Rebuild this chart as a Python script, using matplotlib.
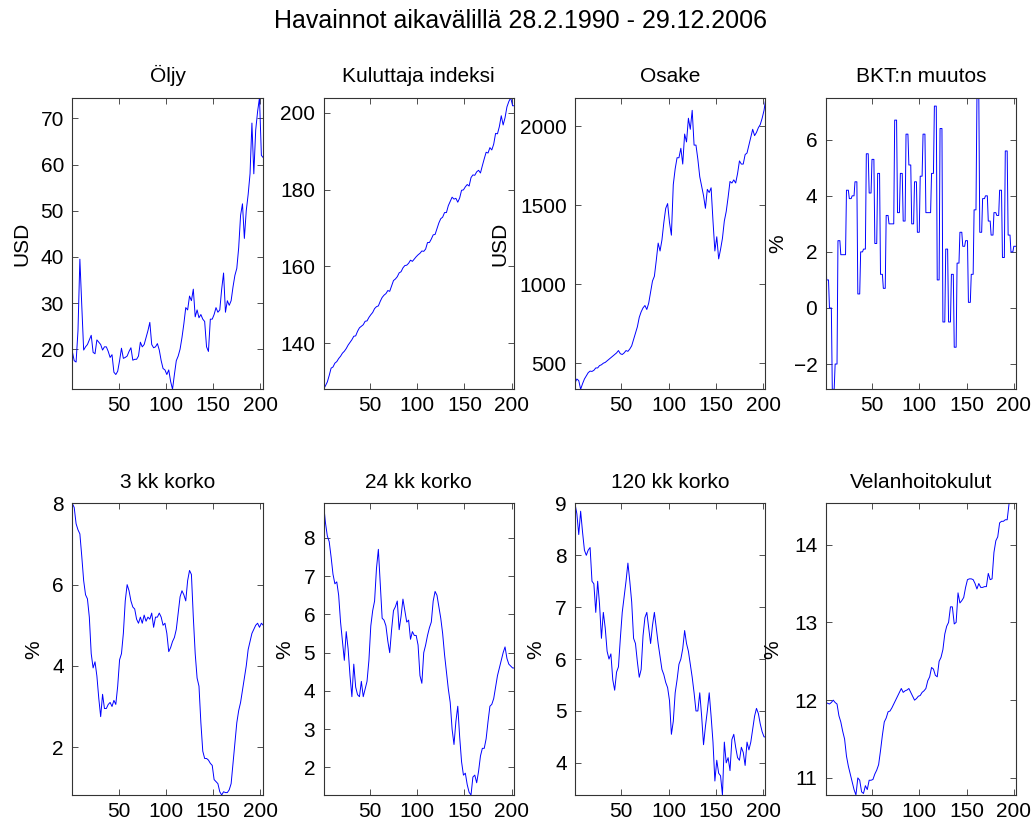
import numpy as np
import matplotlib
matplotlib.use('Agg')
import matplotlib.pyplot as plt

plt.rcParams['font.family'] = ['Liberation Sans', 'DejaVu Sans']

# joka toinen kuukausi, 1 = helmikuu 1990 ... 203 = joulukuu 2006
month = np.arange(1, 204, 2)
month_all = np.arange(1, 204)

# rivi = vuosi (helmi, huhti, kesä, elo, loka, joulu)
oil = [19.5, 17.5, 17.2, 24.0, 39.5, 29.5,
       19.8, 20.5, 21.0, 22.0, 23.0, 19.3,
       19.0, 22.0, 21.5, 21.0, 19.8, 20.5,
       20.5, 19.5, 18.2, 18.8, 15.0, 14.5,
       15.2, 17.5, 20.2, 18.0, 18.2, 18.5,
       19.5, 20.3, 17.6, 17.8, 17.8, 18.5,
       21.5, 20.5, 21.0, 22.5, 24.0, 25.8,
       21.0, 20.3, 20.5, 21.2, 19.8, 17.5,
       15.8, 15.5, 14.5, 15.5, 13.0, 11.3,
       14.5, 17.5, 18.5, 20.0, 22.5, 25.5,
       29.0, 28.5, 31.5, 30.5, 33.0, 27.0,
       28.5, 26.8, 27.5, 26.5, 26.0, 20.5,
       19.5, 26.5, 26.5, 27.5, 29.0, 28.0,
       28.5, 33.0, 36.5, 28.0, 30.5, 29.5,
       30.5, 33.5, 36.0, 37.5, 42.0, 49.0,
       51.5, 44.0, 50.0, 53.5, 58.0, 69.0,
       58.0, 67.5, 71.5, 74.5, 62.0, 61.5]

cpi = [128.0, 128.9, 129.9, 131.6, 133.5, 133.8,
       134.8, 135.2, 136.0, 136.6, 137.4, 137.9,
       138.6, 139.5, 140.2, 140.9, 141.8, 141.9,
       143.1, 144.0, 144.4, 144.8, 145.7, 145.8,
       146.7, 147.4, 148.0, 149.0, 149.5, 149.7,
       150.9, 151.9, 152.5, 152.9, 153.7, 153.5,
       154.9, 156.3, 156.7, 157.3, 158.3, 158.6,
       159.6, 160.2, 160.3, 160.8, 161.6, 161.3,
       161.9, 162.5, 163.0, 163.4, 164.0, 163.9,
       164.5, 166.2, 166.2, 167.1, 168.2, 168.3,
       169.8, 171.3, 172.4, 172.8, 174.0, 174.0,
       175.8, 176.9, 178.0, 177.5, 177.7, 176.7,
       177.8, 179.8, 179.9, 180.7, 181.3, 180.9,
       183.1, 183.8, 183.7, 184.6, 185.0, 184.3,
       186.2, 188.0, 189.7, 189.5, 190.9, 190.3,
       191.8, 194.6, 194.5, 196.4, 199.2, 196.8,
       198.7, 201.5, 202.9, 203.9, 201.8, 201.8]

stock = [375, 400, 390, 335, 370, 400,
         420, 440, 450, 448, 455, 470,
         470, 485, 490, 500, 505, 515,
         525, 535, 545, 555, 565, 580,
         560, 555, 565, 580, 575, 590,
         610, 650, 690, 730, 790, 825,
         850, 865, 840, 880, 950, 1020,
         1050, 1150, 1260, 1210, 1280, 1390,
         1480, 1510, 1390, 1310, 1630, 1730,
         1800, 1800, 1860, 1760, 1950, 1900,
         2050, 1980, 2100, 1880, 1880, 1790,
         1680, 1620, 1560, 1480, 1600, 1580,
         1610, 1400, 1210, 1300, 1160, 1220,
         1290, 1400, 1460, 1550, 1650, 1640,
         1660, 1640, 1700, 1780, 1760, 1760,
         1820, 1830, 1880, 1930, 1980, 1940,
         1960, 1990, 2010, 2050, 2100, 2180]

# BKT:n muutos neljännesvuosittain (toistuu kuukausille)
bkt_q = [2.3, 1.0, 0.0, -2.9, -2.0, 2.4, 1.9, 1.9, 4.2, 3.9,
         4.0, 4.5, 0.5, 2.0, 2.1, 5.5, 4.1, 5.3, 2.3, 4.8,
         1.2, 0.7, 3.3, 3.0, 3.0, 6.7, 3.4, 4.8, 3.1, 6.2,
         5.1, 3.0, 4.5, 2.7, 4.7, 6.2, 3.4, 3.4, 4.8, 7.2,
         1.0, 6.4, -0.5, 2.1, -0.5, 1.2, -1.4, 1.6, 2.7, 2.2,
         2.4, 0.2, 1.2, 3.5, 7.5, 2.7, 3.9, 4.0, 3.1, 2.6,
         3.4, 3.3, 4.2, 1.8, 5.6, 2.6, 2.0, 2.2, 2.2]
bkt = np.repeat(bkt_q, 3)[2:205]

rate3 = [8.0, 7.9, 7.5, 7.35, 7.25, 6.7,
         6.1, 5.75, 5.65, 5.2, 4.3, 3.95,
         4.1, 3.75, 3.2, 2.75, 3.3, 2.95,
         2.95, 3.05, 3.1, 3.0, 3.15, 3.05,
         3.5, 4.15, 4.3, 4.8, 5.6, 6.0,
         5.85, 5.6, 5.45, 5.4, 5.15, 5.05,
         5.2, 5.05, 5.25, 5.1, 5.2, 5.15,
         5.3, 4.95, 5.2, 5.2, 5.3, 5.2,
         5.0, 5.05, 4.8, 4.35, 4.45, 4.6,
         4.7, 4.9, 5.3, 5.7, 5.85, 5.75,
         5.6, 6.1, 6.35, 6.25, 5.2, 4.3,
         3.7, 3.5, 2.6, 1.9, 1.72, 1.72,
         1.68, 1.6, 1.55, 1.2, 1.15, 1.1,
         0.9, 0.82, 0.9, 0.88, 0.88, 0.95,
         1.1, 1.6, 2.1, 2.6, 2.9, 3.1,
         3.4, 3.7, 4.0, 4.4, 4.6, 4.8,
         4.9, 5.0, 5.05, 4.95, 5.05, 5.0]

rate24 = [8.9, 8.4, 8.05, 7.9, 7.5, 7.05,
          6.8, 6.85, 6.5, 5.8, 5.3, 4.8,
          5.55, 5.1, 4.4, 3.85, 4.7, 4.1,
          3.9, 3.85, 4.25, 3.85, 4.05, 4.25,
          4.8, 5.7, 6.1, 6.35, 7.2, 7.7,
          6.8, 5.9, 5.85, 5.7, 5.3, 5.0,
          5.6, 6.1, 6.2, 6.35, 5.6, 5.95,
          6.4, 6.1, 5.8, 5.85, 5.35, 5.55,
          5.45, 5.45, 5.2, 4.4, 4.2, 5.0,
          5.2, 5.45, 5.65, 5.8, 6.35, 6.6,
          6.5, 6.2, 5.9, 5.5, 4.95, 4.5,
          4.05, 3.7, 3.0, 2.6, 3.2, 3.6,
          2.8, 2.15, 1.8, 1.85, 1.55, 1.35,
          1.28, 1.75, 1.8, 1.6, 1.9, 2.3,
          2.5, 2.5, 2.75, 3.2, 3.6, 3.65,
          3.8, 4.1, 4.4, 4.6, 4.8, 5.0,
          5.15, 4.85, 4.7, 4.65, 4.6, 4.6]

rate120 = [9.0, 8.8, 8.4, 8.85, 8.45, 8.1,
           8.0, 8.1, 8.15, 7.5, 7.45, 6.9,
           7.5, 7.05, 6.4, 6.9, 6.6, 6.15,
           6.0, 6.1, 5.6, 5.4, 5.75, 5.85,
           6.4, 6.9, 7.2, 7.5, 7.85, 7.5,
           7.1, 6.4, 6.3, 5.95, 5.65, 5.8,
           6.45, 6.8, 6.9, 6.6, 6.3, 6.65,
           6.9, 6.6, 6.3, 6.05, 5.8, 5.7,
           5.55, 5.45, 5.2, 4.55, 4.8, 5.35,
           5.6, 5.9, 6.0, 6.2, 6.55, 6.3,
           6.15, 5.9, 5.65, 5.35, 5.0, 5.0,
           5.35, 4.9, 4.35, 4.7, 5.0, 5.35,
           4.9, 4.4, 3.65, 4.05, 3.8, 3.75,
           3.38, 4.4, 4.0, 4.1, 3.85, 4.45,
           4.55, 4.3, 4.1, 4.05, 4.3, 4.2,
           3.95, 4.4, 4.25, 4.4, 4.65, 4.9,
           5.05, 4.95, 4.75, 4.6, 4.5, 4.5]

debt = [11.97, 11.96, 11.95, 11.97, 12.0, 11.97,
        11.95, 11.8, 11.72, 11.6, 11.5, 11.28,
        11.15, 11.05, 10.95, 10.85, 10.78, 11.0,
        10.97, 10.82, 10.8, 10.9, 10.85, 10.97,
        10.97, 10.98, 11.05, 11.1, 11.17, 11.35,
        11.55, 11.72, 11.77, 11.85, 11.86, 11.9,
        11.95, 12.0, 12.05, 12.1, 12.15, 12.1,
        12.12, 12.13, 12.15, 12.1, 12.05, 12.0,
        12.02, 12.05, 12.06, 12.1, 12.12, 12.15,
        12.25, 12.3, 12.42, 12.4, 12.32, 12.3,
        12.5, 12.55, 12.65, 12.85, 12.95, 13.0,
        13.2, 13.2, 12.98, 13.0, 13.38, 13.25,
        13.28, 13.32, 13.45, 13.55, 13.56, 13.56,
        13.55, 13.5, 13.43, 13.5, 13.45, 13.45,
        13.46, 13.46, 13.63, 13.55, 13.56, 13.9,
        14.05, 14.1, 14.28, 14.3, 14.3, 14.32,
        14.32, 14.53, 14.53, 14.53, 14.53, 14.53]

titles = ['Öljy', 'Kuluttaja indeksi', 'Osake', 'BKT:n muutos',
          '3 kk korko', '24 kk korko', '120 kk korko', 'Velanhoitokulut']
ylabels = ['USD', '', 'USD', '%', '%', '%', '%', '%']
yticks = [[20, 30, 40, 50, 60, 70], [140, 160, 180, 200],
          [500, 1000, 1500, 2000], [-2, 0, 2, 4, 6],
          [2, 4, 6, 8], [2, 3, 4, 5, 6, 7, 8],
          [4, 5, 6, 7, 8, 9], [11, 12, 13, 14]]
xticks = [50, 100, 150, 200]

series = [(month, oil), (month, cpi), (month, stock), (month_all, bkt),
          (month, rate3), (month, rate24), (month, rate120), (month, debt)]

# asettelu (kuvan osuuksina)
lefts = [0.0700, 0.3132, 0.5566, 0.7993]
bottoms = [0.5270, 0.0340]
w, h = 0.1844, 0.3543
label_x = [-0.267, 0, -0.395, -0.252, -0.204, -0.206, -0.205, -0.279]

fig = plt.figure(figsize=(10.33, 8.23), dpi=100)

for i in range(8):
    ax = fig.add_axes([lefts[i % 4], bottoms[i // 4], w, h])
    x, y = series[i]
    ax.plot(x, y, color='#0000ff', lw=0.7)
    ax.set_xlim(1, 202.5)
    ax.set_ylim(min(y), max(y))
    ax.set_xticks(xticks)
    ax.set_yticks(yticks[i])
    ax.tick_params(direction='in', top=True, right=True, length=4,
                   width=0.6, labelsize=15, color='#333333')
    ax.tick_params(axis='x', pad=5)
    ax.tick_params(axis='y', pad=6)
    for s in ax.spines.values():
        s.set_linewidth(0.8)
        s.set_color('#333333')
    ax.set_title(titles[i], fontsize=15, pad=11)
    if ylabels[i]:
        ax.set_ylabel(ylabels[i], fontsize=15)
        ax.yaxis.set_label_coords(label_x[i], 0.5)
        ax.yaxis.label.set_va('center')

fig.text(0.504, 0.974, 'Havainnot aikavälillä 28.2.1990 - 29.12.2006',
         ha='center', va='center', fontsize=18)

fig.savefig('out.png', dpi=100)
